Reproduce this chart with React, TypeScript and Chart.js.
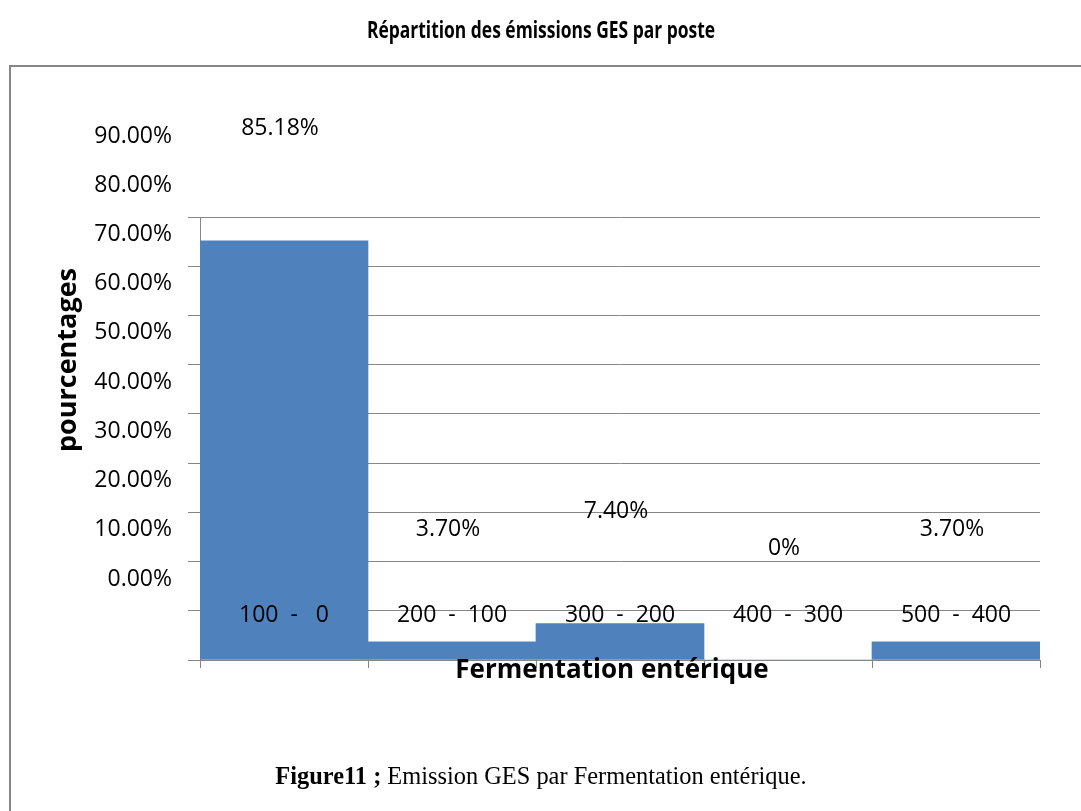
import React, { useEffect, useRef } from "react";
import { Chart, registerables } from "chart.js";

Chart.register(...registerables);

const TITLE = "Répartition des émissions GES par poste";
const CATEGORIES = ["100  -   0", "200  -  100", "300  -  200", "400  -  300", "500  -  400"];
const VALUES = [85.18, 3.7, 7.4, 0, 3.7];
const VALUE_LABELS = ["85.18%", "3.70%", "7.40%", "0%", "3.70%"];
const TICK_VALUES = [0, 10, 20, 30, 40, 50, 60, 70, 80, 90];
const TICK_LABELS = ["0.00%", "10.00%", "20.00%", "30.00%", "40.00%", "50.00%", "60.00%", "70.00%", "80.00%", "90.00%"];
const X_TITLE = "Fermentation entérique";
const Y_TITLE = "pourcentages";
const CAPTION_BOLD = "Figure11 ;";
const CAPTION_REST = " Emission GES par Fermentation entérique.";

const SANS = "'Open Sans', 'Noto Sans', sans-serif";
const SERIF = "'Liberation Serif', 'Times New Roman', serif";
const GRID = "#868686";
const BAR = "#4F81BD";

const decor = {
  id: "decor",
  beforeDraw(chart: any) {
    const ctx = chart.ctx;
    ctx.save();
    ctx.fillStyle = "#ffffff";
    ctx.fillRect(0, 0, chart.width, chart.height);
    // outer frame (top + left visible)
    ctx.strokeStyle = GRID;
    ctx.lineWidth = 2;
    ctx.beginPath();
    ctx.moveTo(10, 820);
    ctx.lineTo(10, 66);
    ctx.lineTo(1090, 66);
    ctx.stroke();
    // title
    ctx.fillStyle = "#000";
    ctx.font = `bold 23px ${SANS}`;
    ctx.textAlign = "center";
    ctx.textBaseline = "middle";
    ctx.fillText(TITLE, 541, 31, 348);
    ctx.restore();
  },
  afterDatasetsDraw(chart: any) {
    const ctx = chart.ctx;
    const xs = chart.scales.x;
    const ys = chart.scales.y;
    ctx.save();
    ctx.fillStyle = "#000";
    ctx.textBaseline = "middle";
    // y tick labels (shifted as in source)
    ctx.font = `23px ${SANS}`;
    ctx.textAlign = "right";
    TICK_VALUES.forEach((v, i) => {
      ctx.fillText(TICK_LABELS[i], 172, ys.getPixelForValue(v) - 81);
    });
    // category labels
    ctx.textAlign = "center";
    CATEGORIES.forEach((c, i) => {
      ctx.fillText(c, xs.getPixelForValue(i), ys.getPixelForValue(0) - 45, 150);
    });
    // data labels
    const meta = chart.getDatasetMeta(0);
    meta.data.forEach((bar: any, i: number) => {
      ctx.fillText(VALUE_LABELS[i], bar.x - 4, bar.y - 112);
    });
    // axis titles
    ctx.font = `bold 26px ${SANS}`;
    ctx.fillText(X_TITLE, 612, 671, 314);
    ctx.save();
    ctx.translate(68, 360);
    ctx.rotate(-Math.PI / 2);
    ctx.font = `bold 27px ${SANS}`;
    ctx.fillText(Y_TITLE, 0, 0, 192);
    ctx.restore();
    // caption
    ctx.textAlign = "left";
    ctx.textBaseline = "alphabetic";
    const fs = 24.4;
    ctx.font = `bold ${fs}px ${SERIF}`;
    const wb = ctx.measureText(CAPTION_BOLD).width;
    ctx.font = `${fs}px ${SERIF}`;
    const wr = ctx.measureText(CAPTION_REST).width;
    const x0 = 541 - (wb + wr) / 2;
    ctx.font = `bold ${fs}px ${SERIF}`;
    ctx.fillText(CAPTION_BOLD, x0, 784);
    ctx.font = `${fs}px ${SERIF}`;
    ctx.fillText(CAPTION_REST, x0 + wb, 784);
    ctx.restore();
  },
};

export default function App() {
  const ref = useRef<HTMLCanvasElement | null>(null);
  useEffect(() => {
    if (!ref.current) return;
    const chart = new Chart(ref.current, {
      type: "bar",
      data: {
        labels: CATEGORIES,
        datasets: [
          {
            data: VALUES,
            backgroundColor: BAR,
            borderWidth: 0,
            barPercentage: 1,
            categoryPercentage: 1,
          },
        ],
      },
      options: {
        responsive: false,
        animation: false,
        devicePixelRatio: 1,
        layout: { padding: { left: 188, right: 41, top: 217, bottom: 143 } },
        plugins: { legend: { display: false }, tooltip: { enabled: false }, title: { display: false } },
        scales: {
          x: {
            offset: true,
            ticks: { display: false },
            grid: { drawOnChartArea: false, drawTicks: true, tickLength: 8, color: GRID, offset: true },
            border: { display: true, color: GRID },
            afterFit: (s: any) => { s.height = 8; },
          },
          y: {
            min: 0,
            max: 90,
            ticks: { display: false, stepSize: 10 },
            grid: { color: GRID, tickLength: 12, drawTicks: true },
            border: { display: true, color: GRID },
            afterFit: (s: any) => { s.width = 12; },
          },
        },
      },
      plugins: [decor],
    });
    return () => chart.destroy();
  }, []);
  return (
    <div style={{ position: "fixed", left: 0, top: 0, width: 1081, height: 811, background: "#fff" }}>
      <canvas ref={ref} width={1081} height={811} style={{ width: 1081, height: 811 }} />
    </div>
  );
}
